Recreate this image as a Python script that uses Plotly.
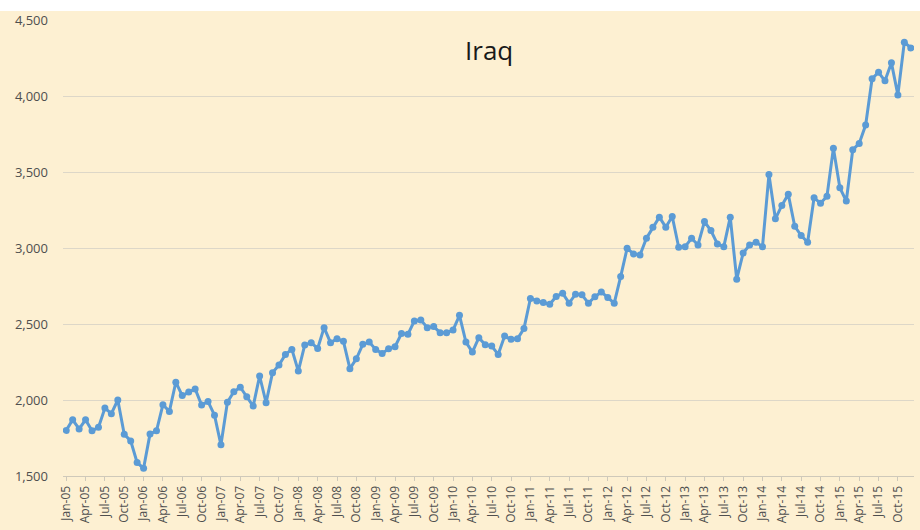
import plotly.graph_objects as go

months = ["Jan", "Feb", "Mar", "Apr", "May", "Jun", "Jul", "Aug", "Sep", "Oct", "Nov", "Dec"]
years = ["05", "06", "07", "08", "09", "10", "11", "12", "13", "14", "15"]
categories = [f"{m}-{y}" for y in years for m in months]

production = [
    1800, 1870, 1810, 1870, 1797, 1820, 1947, 1910, 2000, 1775, 1731, 1588,
    1551, 1777, 1797, 1969, 1925, 2117, 2029, 2053, 2073, 1967, 1990, 1900,
    1705, 1985, 2054, 2084, 2022, 1960, 2158, 1982, 2180, 2230, 2300, 2333,
    2190, 2362, 2377, 2339, 2476, 2377, 2403, 2386, 2206, 2271, 2366, 2381,
    2333, 2306, 2337, 2351, 2437, 2432, 2520, 2527, 2476, 2483, 2443, 2443,
    2460, 2557, 2381, 2315, 2410, 2363, 2355, 2300, 2421, 2399, 2403, 2470,
    2668, 2652, 2641, 2630, 2681, 2703, 2637, 2696, 2692, 2637, 2679, 2711,
    2674, 2637, 2812, 2998, 2961, 2954, 3064, 3137, 3203, 3137, 3207, 3005,
    3009, 3064, 3020, 3174, 3115, 3027, 3009, 3203, 2795, 2967, 3020, 3038,
    3009, 3483, 3192, 3280, 3353, 3143, 3082, 3038, 3330, 3295, 3340, 3657,
    3396, 3309, 3646, 3688, 3809, 4113, 4156, 4100, 4218, 4007, 4354, 4316,
]

tick_labels = categories[::3]
y_ticks = [1500, 2000, 2500, 3000, 3500, 4000, 4500]
title_text = "Iraq"

BG = "#FDF0D2"
LINE = "#5B9BD5"
GRID = "#DDD7C8"
TXT = "#4F4F4F"

fig = go.Figure()
fig.add_trace(go.Scatter(
    x=categories, y=production, mode="lines+markers",
    line=dict(color=LINE, width=3),
    marker=dict(color=LINE, size=7),
    showlegend=False,
))

fig.update_layout(
    width=920, height=530,
    margin=dict(l=63, r=6, t=20, b=54),
    paper_bgcolor=BG, plot_bgcolor=BG,
    font=dict(family="Open Sans", color=TXT),
    annotations=[dict(
        text=title_text, x=0.5, xref="paper", y=4300, yref="y",
        showarrow=False, font=dict(family="Open Sans", size=26, color="#1a1a1a"),
        xanchor="center", yanchor="middle",
    )],
    shapes=[dict(
        type="rect", xref="paper", yref="paper",
        x0=-0.1, x1=1.1, y0=1 + 9 / 456, y1=1 + 20 / 456,
        fillcolor="white", line=dict(width=0), layer="below",
    )],
)

fig.update_xaxes(
    type="category", range=[-0.5, len(categories) - 0.5],
    tickmode="array", tickvals=tick_labels, ticktext=tick_labels,
    tickangle=-90, tickfont=dict(size=12, color=TXT),
    showgrid=False, showline=True, linecolor="#CFC9BA", linewidth=1,
    ticks="outside", ticklen=4, tickcolor="#CFC9BA",
)
fig.update_yaxes(
    range=[1500, 4500], tickvals=y_ticks,
    tickformat=",", tickfont=dict(size=13, color=TXT),
    showgrid=True, gridcolor=GRID, gridwidth=1,
    zeroline=False, showline=False, ticklabelstandoff=14,
)

fig.write_html(
    "out.html",
    config={"displayModeBar": False},
    post_script="document.body.style.margin='0';document.body.style.overflow='hidden';",
)
